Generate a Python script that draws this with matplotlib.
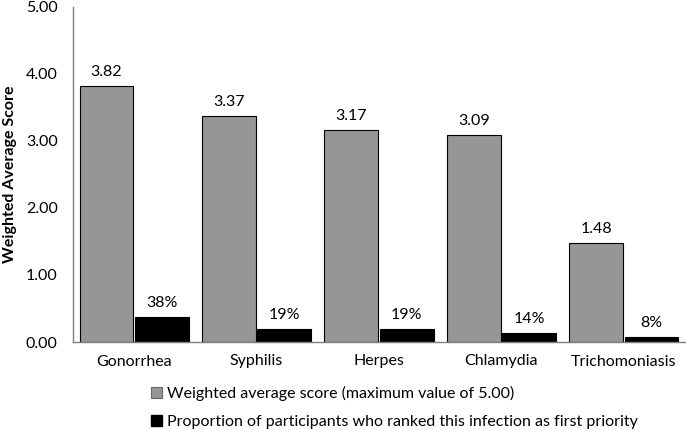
import matplotlib
matplotlib.use("Agg")
import matplotlib.pyplot as plt
import numpy as np
from matplotlib.patches import Patch

categories = ["Gonorrhea", "Syphilis", "Herpes", "Chlamydia", "Trichomoniasis"]
weighted_avg = [3.82, 3.37, 3.17, 3.09, 1.48]
first_priority = [0.38, 0.19, 0.19, 0.14, 0.08]
first_priority_labels = ["38%", "19%", "19%", "14%", "8%"]
yticks = [0, 1, 2, 3, 4, 5]

plt.rcParams['font.family'] = ['Lato', 'DejaVu Sans']
FS = 11.5

fig = plt.figure(figsize=(6.86, 4.30), dpi=100)
ax = fig.add_axes([73/686, 88/430, 612/686, 335/430])

x = np.arange(len(categories))
w = 0.44
off = 0.226
b1 = ax.bar(x - off, weighted_avg, w, color="#969696", edgecolor="black", linewidth=0.8)
b2 = ax.bar(x + off, first_priority, w, color="black", edgecolor="black", linewidth=0.8)

for rect, v in zip(b1, weighted_avg):
    ax.annotate(f"{v:.2f}", (rect.get_x() + rect.get_width()/2, v), xytext=(0, 5),
                textcoords="offset points", ha="center", va="bottom", fontsize=FS)
for rect, v, lab in zip(b2, first_priority, first_priority_labels):
    ax.annotate(lab, (rect.get_x() + rect.get_width()/2, v), xytext=(0, 5),
                textcoords="offset points", ha="center", va="bottom", fontsize=FS)

ax.set_xlim(-0.5, len(categories) - 0.5)
ax.set_ylim(0, 5)
ax.set_yticks(yticks)
ax.set_yticklabels([f"{t:.2f}" for t in yticks], fontsize=FS)
ax.set_xticks(x)
ax.set_xticklabels(categories, fontsize=FS)
ax.tick_params(axis="x", length=0, pad=9)
ax.tick_params(axis="y", length=0, pad=11)
for s in ["top", "right"]:
    ax.spines[s].set_visible(False)
for s in ["left", "bottom"]:
    ax.spines[s].set_color("#7f7f7f")
    ax.spines[s].set_linewidth(1)
ax.set_ylabel("Weighted Average Score", fontsize=FS, fontweight="bold")
ax.yaxis.set_label_coords(-56/612, 0.5)

handles = [Patch(facecolor="#969696", edgecolor="#666666", linewidth=0.8),
           Patch(facecolor="black", edgecolor="black")]
labels = ["Weighted average score (maximum value of 5.00)",
          "Proportion of participants who ranked this infection as first priority"]
fig.legend(handles, labels, loc="upper left", bbox_to_anchor=(151/686, 1 - 386/430),
           frameon=False, fontsize=FS, handlelength=0.7, handleheight=0.7,
           handletextpad=0.3, labelspacing=0.85, borderpad=0, borderaxespad=0)

fig.savefig("out.png", dpi=100)
